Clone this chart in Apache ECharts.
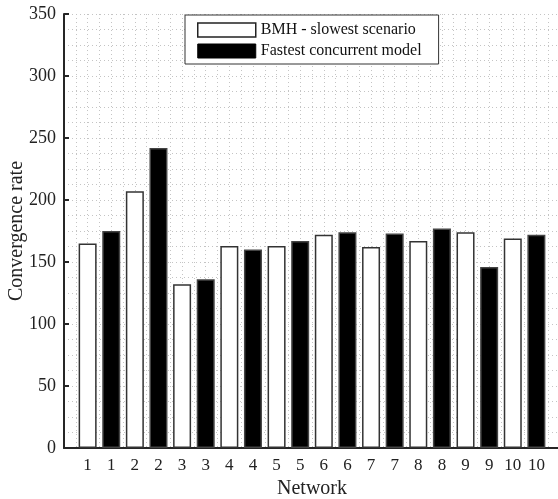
<!DOCTYPE html>
<html>
<head>
<meta charset="utf-8" />
<title></title>
<script src="https://cdn.jsdelivr.net/npm/echarts@6/dist/echarts.min.js"></script>
<style>
html, body { margin: 0; padding: 0; background: #fff; }
#chart { width: 558px; height: 499px; }
</style>
</head>
<body>
<div id="chart"></div>
<script type="text/javascript">
// networks, each shown twice (slowest BMH scenario, then fastest concurrent model)
var networks = ['1', '2', '3', '4', '5', '6', '7', '8', '9', '10'];
var bmhSlowest = [165, 207, 132, 163, 163, 172, 162, 167, 174, 169];
var fastestModel = [175, 242, 136, 160, 167, 174, 173, 177, 146, 172];
var yTicks = [0, 50, 100, 150, 200, 250, 300, 350];

var font = 'Liberation Serif';
var gridLine = { color: '#c4c4c4', width: 1, type: [1, 3] };

// bar positions on the x axis: 1,2 for network 1, 3,4 for network 2 ...
var bmhData = bmhSlowest.map(function(v, i) { return [2 * i + 1, v]; });
var fastData = fastestModel.map(function(v, i) { return [2 * i + 2, v]; });

var myChart = echarts.init(document.getElementById('chart'));
myChart.setOption({
	animation : false,
	textStyle : { fontFamily : font },
	grid : {
		left : 64,
		right : -2,
		top : 14,
		bottom : 51,
		containLabel : false,
		outerBoundsMode : 'none'
	},
	legend : {
		orient : 'vertical',
		left : 185,
		top : 15,
		padding : [ 7, 17, 5, 12 ],
		itemWidth : 58,
		itemHeight : 14,
		itemGap : 5,
		backgroundColor : '#fff',
		borderColor : '#333',
		borderWidth : 1,
		textStyle : { fontFamily : font, fontSize : 16, color : '#111' },
		data : [ {
			name : 'BMH - slowest scenario',
			icon : 'rect',
			itemStyle : { color : '#fff', borderColor : '#222', borderWidth : 1.5 }
		}, {
			name : 'Fastest concurrent model',
			icon : 'rect',
			itemStyle : { color : '#000', borderColor : '#000', borderWidth : 1 }
		} ]
	},
	xAxis : {
		type : 'value',
		min : 0,
		max : 21,
		interval : 1,
		name : 'Network',
		nameLocation : 'middle',
		nameGap : 31,
		nameMoveOverlap : false,
		nameTextStyle : { fontFamily : font, fontSize : 20, color : '#222' },
		axisLine : { lineStyle : { color : '#262626', width : 2 } },
		axisTick : { show : false },
		axisLabel : {
			margin : 9,
			fontFamily : font,
			fontSize : 17,
			color : '#222',
			formatter : function(v) {
				if (v < 1 || v > 20) return '';
				return networks[Math.ceil(v / 2) - 1];
			}
		},
		splitLine : { show : true, lineStyle : gridLine },
		minorTick : { show : false, splitNumber : 2 },
		minorSplitLine : { show : true, lineStyle : gridLine }
	},
	yAxis : {
		type : 'value',
		min : yTicks[0],
		max : yTicks[yTicks.length - 1],
		interval : 50,
		name : 'Convergence rate',
		nameLocation : 'middle',
		nameGap : 37,
		nameMoveOverlap : false,
		nameTextStyle : { fontFamily : font, fontSize : 20, color : '#222' },
		axisLine : { show : true, lineStyle : { color : '#262626', width : 2 } },
		axisTick : { show : true, inside : true, length : 5, lineStyle : { color : '#262626', width : 2 } },
		axisLabel : { margin : 8, fontFamily : font, fontSize : 18, color : '#222' },
		splitLine : { show : true, lineStyle : gridLine },
		minorTick : { show : false, splitNumber : 4 },
		minorSplitLine : { show : true, lineStyle : gridLine }
	},
	series : [ {
		name : 'BMH - slowest scenario',
		type : 'bar',
		barWidth : 18,
		barGap : '-100%',
		itemStyle : { color : '#fff', borderColor : '#333', borderWidth : 1.5 },
		data : bmhData
	}, {
		name : 'Fastest concurrent model',
		type : 'bar',
		barWidth : 18,
		barGap : '-100%',
		itemStyle : { color : '#000', borderColor : '#444', borderWidth : 1.5 },
		data : fastData
	} ]
});
</script>
</body>
</html>
